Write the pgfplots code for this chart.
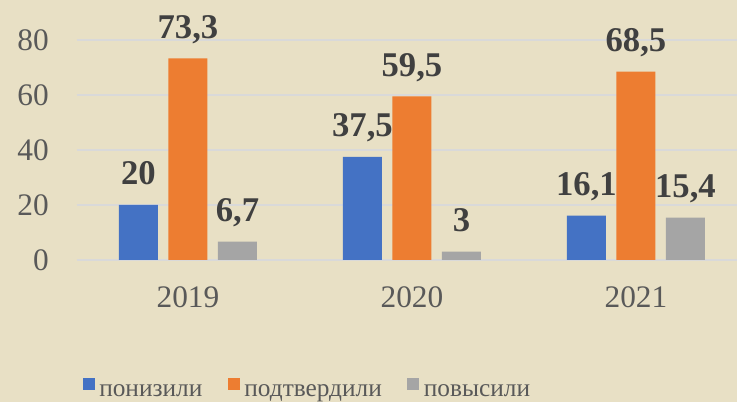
\documentclass[border=0pt]{standalone}
\usepackage{fontspec}
\setmainfont{Liberation Serif}
\usepackage{pgfplots}
\pgfplotsset{compat=1.18}
\definecolor{bgc}{HTML}{E8E0C5}
\definecolor{cblue}{HTML}{4472C4}
\definecolor{corange}{HTML}{ED7D31}
\definecolor{cgray}{HTML}{A5A5A5}
\definecolor{gridc}{HTML}{D9D9D9}
\definecolor{tickc}{HTML}{595959}
\definecolor{labc}{HTML}{404040}
\begin{document}
\begin{tikzpicture}
\fill[bgc] (-57.75pt,-106.5pt) rectangle (495pt,195pt);
\begin{axis}[
  at={(0,0)}, anchor=south west,
  scale only axis, width=495pt, height=165pt,
  xmin=-0.4955, xmax=2.451, ymin=0, ymax=80,
  clip=false,
  axis line style={draw=none},
  major tick length=0pt,
  ytick={0,20,40,60,80},
  xtick={0,1,2}, xticklabels={2019,2020,2021},
  ymajorgrids, grid style={gridc, line width=1.5pt},
  /pgf/number format/assume math mode=true,
  tick label style={font=\fontsize{23.5}{23.5}\selectfont, text=tickc},
  y tick label style={anchor=east, inner sep=0pt, xshift=-21pt},
  x tick label style={anchor=base, inner sep=0pt, yshift=-36pt},
  ybar=7.875pt, bar width=29.25pt,
  point meta=explicit symbolic,
  nodes near coords,
  nodes near coords style={anchor=base, inner sep=0pt, yshift=15pt, font=\fontsize{26}{26}\selectfont\bfseries, text=labc},
  legend columns=3,
  legend style={draw=none, fill=none, at={(axis description cs:0,0)}, anchor=north west, xshift=1pt, yshift=-86pt,
     font=\fontsize{19}{19}\selectfont, text=tickc,
     /tikz/every even column/.append style={column sep=17pt}},
  legend cell align=left,
  legend image code/.code={\fill[#1,draw=none] (0pt,1.5pt) rectangle (9pt,10.5pt); \path (10.5pt,1.5pt);},
]
\addplot[fill=cblue, draw=none] coordinates {(0,20) [20] (1,37.5) [{37,5}] (2,16.1) [{16,1}]};
\addplot[fill=corange, draw=none] coordinates {(0,73.3) [{73,3}] (1,59.5) [{59,5}] (2,68.5) [{68,5}]};
\addplot[fill=cgray, draw=none] coordinates {(0,6.7) [{6,7}] (1,3) [3] (2,15.4) [{15,4}]};
\legend{понизили, подтвердили, повысили}
\end{axis}
\pgfresetboundingbox
\path[use as bounding box] (-57.75pt,-106.5pt) rectangle (495pt,195pt);
\end{tikzpicture}
\end{document}
